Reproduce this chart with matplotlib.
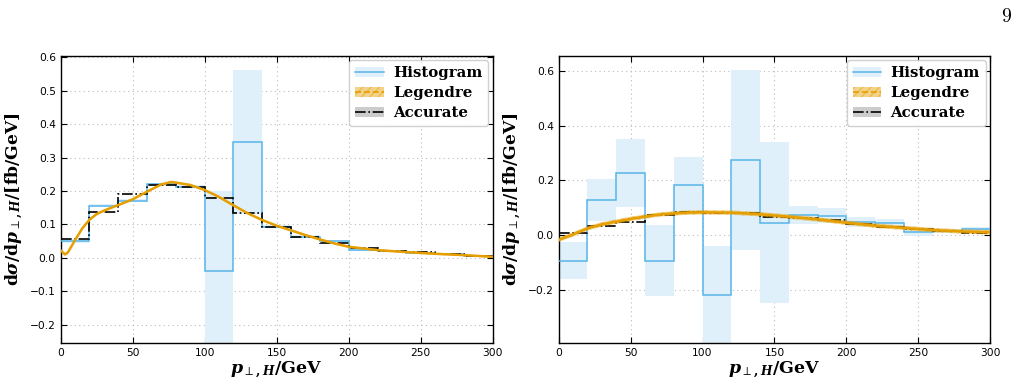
import numpy as np
import matplotlib
matplotlib.use("Agg")
import matplotlib.pyplot as plt
from matplotlib.patches import Patch
from matplotlib.lines import Line2D

plt.rcParams['mathtext.fontset'] = 'custom'
plt.rcParams['mathtext.rm'] = 'DejaVu Serif:bold'
plt.rcParams['mathtext.bf'] = 'DejaVu Serif:bold'
plt.rcParams['mathtext.it'] = 'DejaVu Serif:italic:bold'
plt.rcParams['mathtext.fallback'] = 'cm'

# ---------------- data ----------------
bin_edges = [0, 20, 40, 60, 80, 100, 120, 140, 160, 180, 200, 220, 240, 260, 280, 300]

# left panel
left_hist = [0.050, 0.156, 0.171, 0.220, 0.213, -0.040, 0.346, 0.093, 0.063, 0.050,
             0.023, 0.021, 0.015, 0.010, 0.006]
left_hist_err = [0.005, 0.005, 0.005, 0.005, 0.005, 0.240, 0.216, 0.004, 0.004, 0.004,
                 0.003, 0.003, 0.003, 0.002, 0.002]
left_acc = [0.055, 0.138, 0.190, 0.218, 0.213, 0.178, 0.135, 0.093, 0.063, 0.043,
            0.028, 0.021, 0.016, 0.010, 0.005]
left_leg_x = [0, 3, 5, 10, 15, 20, 25, 30, 40, 50, 60, 70, 77, 80, 90, 100, 110, 120, 130,
              140, 150, 160, 170, 180, 190, 200, 220, 240, 260, 280, 300]
left_leg_y = [0.022, 0.010, 0.016, 0.053, 0.088, 0.114, 0.131, 0.141, 0.158, 0.175, 0.198,
              0.220, 0.227, 0.225, 0.218, 0.203, 0.182, 0.157, 0.133, 0.113, 0.096, 0.082,
              0.068, 0.055, 0.043, 0.033, 0.023, 0.017, 0.012, 0.008, 0.003]
left_leg_err = 0.003

# right panel
right_hist = [-0.094, 0.128, 0.226, -0.095, 0.182, -0.220, 0.276, 0.045, 0.073, 0.071,
              0.047, 0.043, 0.011, 0.014, 0.022]
right_hist_err = [0.068, 0.078, 0.125, 0.130, 0.105, 0.180, 0.330, 0.295, 0.033, 0.028,
                  0.018, 0.015, 0.016, 0.008, 0.009]
right_acc = [0.008, 0.034, 0.049, 0.073, 0.085, 0.082, 0.079, 0.067, 0.064, 0.055,
             0.039, 0.031, 0.021, 0.015, 0.008]
right_leg_x = [0, 10, 20, 30, 40, 50, 60, 70, 80, 90, 100, 120, 140, 160, 180, 200, 220,
               240, 260, 280, 300]
right_leg_y = [-0.018, 0.002, 0.024, 0.039, 0.049, 0.059, 0.067, 0.075, 0.079, 0.082, 0.083,
               0.082, 0.076, 0.067, 0.057, 0.045, 0.034, 0.026, 0.018, 0.013, 0.010]
right_leg_err = 0.008

x_ticks = [0, 50, 100, 150, 200, 250, 300]
left_yticks = [-0.2, -0.1, 0.0, 0.1, 0.2, 0.3, 0.4, 0.5, 0.6]
right_yticks = [-0.2, 0.0, 0.2, 0.4, 0.6]

BLUE = '#56B4E9'
LBLUE = '#dff0fa'
ORANGE = '#E69F00'

fig = plt.figure(figsize=(10.18, 3.88), dpi=100)
axL = fig.add_axes([0.0596, 0.1152, 0.4244, 0.7412])
axR = fig.add_axes([0.5488, 0.1152, 0.4240, 0.7412])


def draw(ax, hist, herr, acc, lx, ly, lerr, ylim, yticks):
    edges = np.array(bin_edges, dtype=float)
    h = np.array(hist)
    e = np.array(herr)
    ax.stairs(h + e, edges, baseline=h - e, fill=True, color=LBLUE, lw=0, zorder=1)
    ax.stairs(h, edges, color=BLUE, lw=1.1, zorder=3, baseline=None)
    ax.stairs(acc, edges, color='black', lw=1.2, ls='-.', zorder=4, baseline=None)
    lx = np.array(lx, dtype=float)
    ly = np.array(ly)
    ax.fill_between(lx, ly - lerr, ly + lerr, facecolor=ORANGE, alpha=0.45,
                    edgecolor=ORANGE, hatch='////', lw=0, zorder=5)
    ax.plot(lx, ly, color=ORANGE, lw=1.8, zorder=6)
    ax.set_xlim(0, 300)
    ax.set_ylim(*ylim)
    ax.set_xticks(x_ticks)
    ax.set_yticks(yticks)
    ax.set_yticklabels([f'{t:.1f}'.replace('-', '\u2212') for t in yticks])
    ax.tick_params(direction='in', top=True, right=True, labelsize=7.7, length=4, width=0.8)
    ax.grid(True, ls=(0, (1, 3)), color='#bbbbbb', lw=0.8)
    ax.set_axisbelow(True)
    for s in ax.spines.values():
        s.set_linewidth(1.0)
    ax.set_xlabel(r'$p_{\perp,H}/\mathbf{GeV}$', fontsize=12.5, labelpad=1)
    ax.set_ylabel(r'$\mathbf{d}\sigma/\mathbf{d}p_{\perp,H}/[\mathbf{fb/GeV}]$', fontsize=12.3,
                  labelpad=3)
    handles = [
        (Patch(facecolor=LBLUE, edgecolor='none'), Line2D([], [], color=BLUE, lw=1.1)),
        (Patch(facecolor=ORANGE, alpha=0.45, edgecolor=ORANGE, hatch='////', lw=0),
         Line2D([], [], color=ORANGE, lw=1.2, ls='--')),
        (Patch(facecolor='#cccccc', edgecolor='none'),
         Line2D([], [], color='black', lw=1.2, ls='-.')),
    ]
    ax.legend(handles, ['Histogram', 'Legendre', 'Accurate'], loc='upper right',
              prop={'family': 'DejaVu Serif', 'weight': 'bold', 'size': 10.8},
              handlelength=1.9, borderaxespad=0.3, labelspacing=0.4, handletextpad=0.6,
              borderpad=0.4, framealpha=0.9, edgecolor='#cccccc', fancybox=True)


draw(axL, left_hist, left_hist_err, left_acc, left_leg_x, left_leg_y, left_leg_err,
     (-0.256, 0.605), left_yticks)
draw(axR, right_hist, right_hist_err, right_acc, right_leg_x, right_leg_y, right_leg_err,
     (-0.397, 0.657), right_yticks)

fig.text(0.9885, 0.955, '9', family='cmr10', fontsize=14, ha='center', va='center')

fig.savefig('out.png', dpi=100)
